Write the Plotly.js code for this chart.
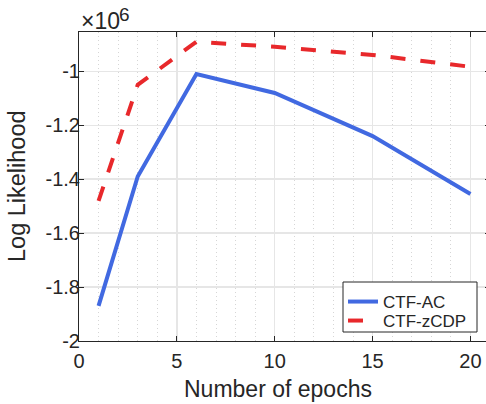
<!DOCTYPE html>
<html>
<head>
<meta charset="utf-8">
<script src="https://cdn.plot.ly/plotly-3.0.1.min.js"></script>
<style>
  html, body { margin: 0; padding: 0; overflow: hidden; background: #fff; }
  #chart { width: 492px; height: 404px; }
</style>
</head>
<body>
<div id="chart"></div>
<script>
// Training epochs at which the log likelihood was recorded
const epochs = [1, 3, 6, 10, 15, 20];

// Log likelihood, in units of 10^6
const ctfAC   = [-1.87, -1.39, -1.01, -1.08, -1.24, -1.455];
const ctfZCDP = [-1.48, -1.05, -0.89, -0.909, -0.939, -0.983];

// Axis ticks
const xTicks = [0, 5, 10, 15, 20];
const yTicks = [-2, -1.8, -1.6, -1.4, -1.2, -1];
const yTickText = ['-2', '-1.8', '-1.6', '-1.4', '-1.2', '-1'];

const FONT = 'Liberation Sans, Arial, Helvetica, sans-serif';
const INK = '#262626';

// Plot area geometry (px) used to place the free-standing texts and the legend frame
const W = 492, H = 404;
const M = { l: 79, r: 2, t: 32, b: 63 };
const PW = W - M.l - M.r, PH = H - M.t - M.b;
const px = x => (x - M.l) / PW;          // pixel column -> paper x
const py = y => (H - M.b - y) / PH;      // pixel row    -> paper y

const traces = [
  {
    x: epochs, y: ctfAC, name: 'CTF-AC', type: 'scatter', mode: 'lines',
    line: { color: '#4169e1', width: 4 }, legend: 'legend'
  },
  {
    x: epochs, y: ctfZCDP, name: 'CTF-zCDP', type: 'scatter', mode: 'lines',
    line: { color: '#e8282b', width: 4, dash: '15px,15px' }, legend: 'legend2'
  }
];

const legendBase = {
  xanchor: 'left', yanchor: 'middle',
  bgcolor: 'rgba(0,0,0,0)', borderwidth: 0,
  font: { family: FONT, size: 17, color: INK }
};

const layout = {
  width: W, height: H,
  margin: M,
  paper_bgcolor: '#fff', plot_bgcolor: '#fff',
  font: { family: FONT, color: INK, size: 20 },
  showlegend: true,
  xaxis: {
    range: [0, 21], tickvals: xTicks,
    ticks: 'inside', ticklen: 5, tickwidth: 1, tickcolor: INK,
    showline: true, linecolor: INK, linewidth: 1, mirror: 'ticks',
    showgrid: true, gridcolor: '#e6e6e6', gridwidth: 1.5,
    zeroline: false, ticklabelstandoff: 2,
    tickfont: { family: FONT, size: 20, color: INK },
    minor: { dtick: 1, showgrid: true, gridcolor: '#d6d6d6', griddash: '1px,3px', gridwidth: 1, ticks: '' }
  },
  yaxis: {
    range: [-2, -0.854], tickvals: yTicks, ticktext: yTickText,
    ticks: 'inside', ticklen: 5, tickwidth: 1, tickcolor: INK,
    showline: true, linecolor: INK, linewidth: 1, mirror: 'ticks',
    showgrid: true, gridcolor: '#e6e6e6', gridwidth: 1.5,
    zeroline: false, ticklabelstandoff: -6,
    tickfont: { family: FONT, size: 20, color: INK }
  },
  legend:  Object.assign({ x: px(343), y: py(302) }, legendBase),
  legend2: Object.assign({ x: px(343), y: py(321) }, legendBase),
  shapes: [
    // legend frame
    { type: 'rect', xref: 'paper', yref: 'paper', layer: 'above',
      x0: px(343), x1: px(477), y0: py(332), y1: py(282),
      fillcolor: '#fff', line: { color: INK, width: 1 } }
  ],
  annotations: [
    { text: 'Number of epochs', xref: 'paper', yref: 'paper', x: px(278), y: py(389),
      xanchor: 'center', yanchor: 'middle', showarrow: false,
      font: { family: FONT, size: 23, color: INK } },
    { text: 'Log Likelihood', xref: 'paper', yref: 'paper', x: px(17), y: py(186),
      xanchor: 'center', yanchor: 'middle', showarrow: false, textangle: -90,
      font: { family: FONT, size: 23.5, color: INK } },
    { text: '×10', xref: 'paper', yref: 'paper', x: px(79), y: py(21),
      xanchor: 'left', yanchor: 'middle', showarrow: false,
      font: { family: FONT, size: 23, color: INK } },
    { text: '6', xref: 'paper', yref: 'paper', x: px(117), y: py(14),
      xanchor: 'left', yanchor: 'middle', showarrow: false,
      font: { family: FONT, size: 19, color: INK } }
  ]
};

Plotly.newPlot('chart', traces, layout, { displayModeBar: false, staticPlot: true });
</script>
</body>
</html>
